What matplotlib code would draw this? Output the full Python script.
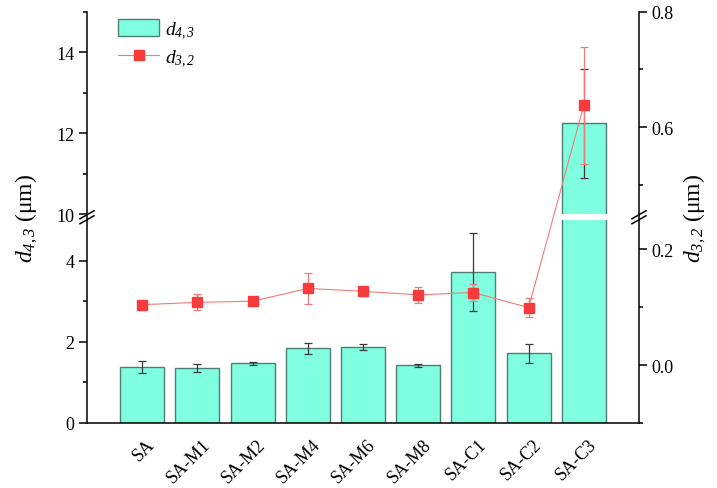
import numpy as np
import matplotlib
matplotlib.use("Agg")
import matplotlib.pyplot as plt
from matplotlib.lines import Line2D
from matplotlib.patches import Patch
from matplotlib.transforms import ScaledTranslation

plt.rcParams["font.family"] = ["Liberation Serif", "DejaVu Serif"]
plt.rcParams["mathtext.fontset"] = "custom"
# everything inside $...$ is italic (symbol and subscript digits)
plt.rcParams["mathtext.it"] = "Liberation Serif:italic"
plt.rcParams["mathtext.rm"] = "Liberation Serif:italic"

samples = ["SA", "SA-M1", "SA-M2", "SA-M4", "SA-M6", "SA-M8", "SA-C1", "SA-C2", "SA-C3"]
d43 = [1.38, 1.35, 1.47, 1.84, 1.87, 1.42, 3.72, 1.72, 12.24]
d43_err = [0.14, 0.095, 0.03, 0.13, 0.07, 0.045, 0.96, 0.24, 1.34]
d32 = [0.104, 0.108, 0.110, 0.132, 0.127, 0.121, 0.125, 0.099, 0.638]
d32_err = [0.004, 0.014, 0.003, 0.027, 0.008, 0.014, 0.0145, 0.017, 0.101]

# broken axes: (low, high) of the cut and the gap size in data units
L_CUT, L_GAP = (5.0, 10.0), 0.16
R_CUT, R_GAP = (0.25, 0.45), 0.0095


def make_break(cut, gap):
    lo, hi = cut

    def fwd(v):
        v = np.asarray(v, float)
        return np.where(v <= lo, v,
                        np.where(v >= hi, v - (hi - lo) + gap, lo + (v - lo) * gap / (hi - lo)))

    def inv(u):
        u = np.asarray(u, float)
        return np.where(u <= lo, u,
                        np.where(u >= lo + gap, u + (hi - lo) - gap, lo + (u - lo) * (hi - lo) / gap))

    return fwd, inv


W, H = 717, 489
fig = plt.figure(figsize=(W / 100, H / 100), dpi=100)
ax = fig.add_axes([87 / W, 65 / H, 552 / W, 411.5 / H])
ax2 = ax.twinx()

x = np.arange(1, len(samples) + 1)

ax.set_yscale("function", functions=make_break(L_CUT, L_GAP))
ax2.set_yscale("function", functions=make_break(R_CUT, R_GAP))

ax.bar(x, d43, width=0.8, color="#7fffdf", edgecolor="#4f7f72", linewidth=1.0, zorder=2)
ax.errorbar(x, d43, yerr=d43_err, fmt="none", ecolor="#3a3a3a", elinewidth=0.9,
            capsize=3, capthick=0.9, zorder=3)
# white gap through the tall bar at the axis break
ax.fill_between([x[-1] - 0.43, x[-1] + 0.43], L_CUT[0], L_CUT[1], color="white",
                linewidth=0, zorder=2.5)

ax2.errorbar(x, d32, yerr=d32_err, fmt="none", ecolor="#f47a7a", elinewidth=0.9,
             capsize=3, capthick=0.9, zorder=3)
ax2.plot(x, d32, color="#f47a7a", linewidth=0.8, marker="s", markersize=7,
         markerfacecolor="#f53b3b", markeredgecolor="#f53b3b", zorder=4)

ax.set_xlim(0, 10)
ax.set_ylim(0, 15)
ax2.set_ylim(-0.1, 0.8)

ax.set_yticks([0, 2, 4, 10, 12, 14])
ax.set_yticklabels(["0", "2", "4", "10", "12", "14"])
ax.set_yticks([1, 3, 11, 13, 15], minor=True)
ax2.set_yticks([0.0, 0.2, 0.6, 0.8])
ax2.set_yticklabels(["0.0", "0.2", "0.6", "0.8"])
ax2.set_yticks([-0.1, 0.1, 0.5, 0.7], minor=True)

ax.set_xticks(x)
ax.set_xticklabels(samples, rotation=45, ha="right", va="top", rotation_mode="anchor")
ax.tick_params(axis="x", direction="in", length=5, width=1.1, pad=9, labelsize=13)
ax.tick_params(axis="y", which="major", direction="out", length=6, width=1.1, pad=3,
               labelsize=13)
ax.tick_params(axis="y", which="minor", direction="out", length=3, width=1.1)
ax2.tick_params(axis="y", which="major", direction="out", length=6, width=1.1, pad=3,
                labelsize=13)
ax2.tick_params(axis="y", which="minor", direction="out", length=3, width=1.1)
for lbl in ax.get_xticklabels():
    lbl.set_transform(lbl.get_transform() + ScaledTranslation(3 / 72, 0, fig.dpi_scale_trans))

for a in (ax, ax2):
    a.spines["top"].set_visible(False)
    for s in a.spines.values():
        s.set_linewidth(1.1)
ax.spines["right"].set_visible(False)
ax2.spines["left"].set_visible(False)
ax2.spines["bottom"].set_visible(False)

ax.set_ylabel(r"$d_{4,3}$ (μm)", fontsize=17, labelpad=12)
ax2.set_ylabel(r"$d_{3,2}$ (μm)", fontsize=17, labelpad=6)

handles = [Patch(facecolor="#7fffdf", edgecolor="#4f7f72", linewidth=1.0),
           Line2D([], [], color="#f47a7a", linewidth=0.8, marker="s", markersize=7,
                  markerfacecolor="#f53b3b", markeredgecolor="#f53b3b")]
ax.legend(handles, [r"$d_{4,3}$", r"$d_{3,2}$"],
          loc="upper left", bbox_to_anchor=(0.025, 1.025), frameon=False, fontsize=14,
          handlelength=2.1, handleheight=1.0, handletextpad=0.3, labelspacing=0.35)

# break marks on both spines
ybrk = ax.transData.transform((0, 7.5))[1]
for xs in (ax.transAxes.transform((0, 0))[0], ax.transAxes.transform((1, 0))[0]):
    for off in (-2.5, 2.5):
        fig.add_artist(Line2D([(xs - 7) / W, (xs + 7) / W],
                              [(ybrk + off - 4) / H, (ybrk + off + 4) / H],
                              color="black", linewidth=1.1, transform=fig.transFigure))

fig.savefig("out.png", dpi=100)
